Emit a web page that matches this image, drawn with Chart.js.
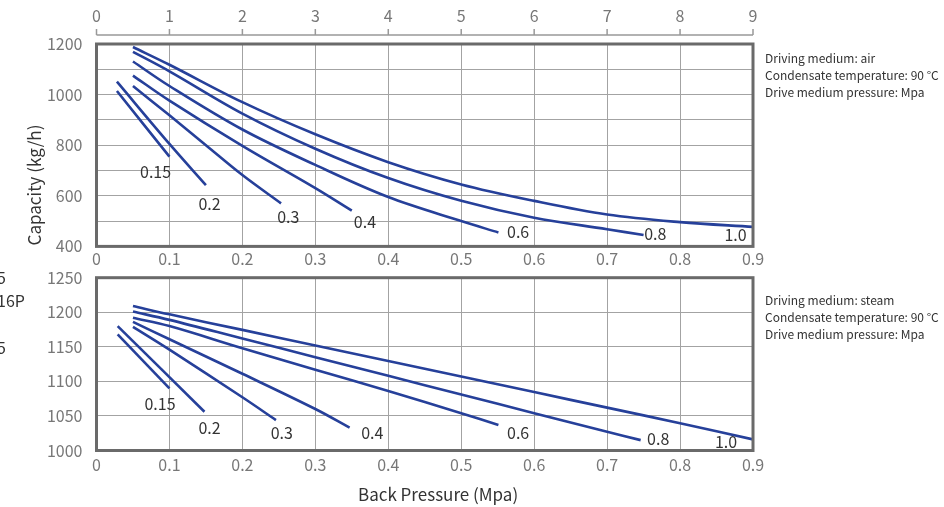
<!DOCTYPE html>
<html>
<head>
<meta charset="utf-8">
<script src="https://cdn.jsdelivr.net/npm/chart.js@4"></script>
<style>
  body { margin: 0; background: #fff; width: 944px; height: 507px; position: relative; overflow: hidden;
         font-family: "Noto Sans CJK SC", "Noto Sans", sans-serif; }
  canvas { position: absolute; left: 0; }
  #airChart { top: 0; }
  #steamChart { top: 254px; }
  .note { position: absolute; left: 765px; font-size: 12px; line-height: 17px; color: #333; white-space: nowrap; }
  .ytitle { position: absolute; left: 33px; top: 185px; font-size: 17px; color: #333; white-space: nowrap;
            transform: translate(-50%, -50%) rotate(-90deg); }
  .xtitle { position: absolute; left: 358px; top: 481px; font-size: 17px; color: #333; white-space: nowrap; }
  .stray { position: absolute; left: -3px; font-size: 16px; color: #333; line-height: 20px; }
</style>
</head>
<body>
<canvas id="airChart" width="944" height="270"></canvas>
<canvas id="steamChart" width="944" height="253"></canvas>

<div class="note" style="top:49px">Driving medium: air<br>Condensate temperature: 90 °C<br>Drive medium pressure: Mpa</div>
<div class="note" style="top:291px">Driving medium: steam<br>Condensate temperature: 90 °C<br>Drive medium pressure: Mpa</div>
<div class="ytitle">Capacity (kg/h)</div>
<div class="xtitle">Back Pressure (Mpa)</div>
<div class="stray" style="top:267px">5</div>
<div class="stray" style="top:290px">16P</div>
<div class="stray" style="top:337px">5</div>

<script>
/* ===============================
   DATA
================================ */
const curveNames = ["0.15", "0.2", "0.3", "0.4", "0.6", "0.8", "1.0"];

// air driven, [back pressure (Mpa), capacity (kg/h)]
const air015 = [[0.028, 1014], [0.1, 755]];
const air02  = [[0.028, 1051], [0.1, 805], [0.15, 642]];
const air03  = [[0.05, 1034], [0.1, 918], [0.15, 800], [0.2, 682], [0.253, 570]];
const air04  = [[0.05, 1075], [0.1, 976], [0.2, 797], [0.3, 630], [0.35, 541]];
const air06  = [[0.05, 1131], [0.1, 1034], [0.2, 862], [0.3, 722], [0.4, 595], [0.5, 500], [0.551, 455]];
const air08  = [[0.05, 1169], [0.1, 1092], [0.2, 925], [0.3, 786], [0.4, 670], [0.5, 580], [0.6, 513], [0.7, 468], [0.75, 445]];
const air10  = [[0.05, 1188], [0.1, 1118], [0.2, 970], [0.3, 843], [0.4, 733], [0.5, 645], [0.6, 580], [0.7, 526], [0.8, 496], [0.9, 477]];

// steam driven
const steam015 = [[0.029, 1168], [0.1, 1090]];
const steam02  = [[0.029, 1180], [0.148, 1056]];
const steam03  = [[0.05, 1179], [0.1, 1146], [0.2, 1077], [0.246, 1044]];
const steam04  = [[0.05, 1186], [0.1, 1161], [0.2, 1111], [0.3, 1060], [0.347, 1033]];
const steam06  = [[0.05, 1192], [0.1, 1180], [0.2, 1148], [0.3, 1117], [0.4, 1086], [0.5, 1054], [0.551, 1037]];
const steam08  = [[0.05, 1201], [0.1, 1189], [0.2, 1162], [0.3, 1135], [0.4, 1108], [0.5, 1081], [0.6, 1054], [0.7, 1027], [0.746, 1015]];
const steam10  = [[0.05, 1209], [0.1, 1197], [0.2, 1174.5], [0.3, 1152], [0.4, 1129.5], [0.5, 1107], [0.6, 1084.5], [0.7, 1062], [0.8, 1039.5], [0.9, 1016]];

// where each curve's name sits (data units)
const airLabelAt   = [[0.081, 694], [0.155, 566], [0.263, 515], [0.368, 496], [0.578, 457], [0.766, 449], [0.876, 446]];
const steamLabelAt = [[0.087, 1068], [0.155, 1032], [0.254, 1025], [0.378, 1025], [0.578, 1025], [0.77, 1017], [0.863, 1013]];

const topTicks = [0, 1, 2, 3, 4, 5, 6, 7, 8, 9];


/* ===============================
   SHARED STYLE
================================ */
Chart.defaults.font.family = '"Noto Sans CJK SC", "Noto Sans", sans-serif';
Chart.defaults.font.size = 16;
Chart.defaults.color = "#777";

const LINE = "#26409a";
const GRID = "#a3a3a3";

const toSet = pts => ({
  data: pts.map(p => ({ x: p[0], y: p[1] })),
  showLine: true,
  borderColor: LINE,
  borderWidth: 2.6,
  pointRadius: 0,
  tension: 0.35,
  fill: false
});

const framePlugin = {
  id: "frame",
  afterDraw(chart, args, opts) {
    const { ctx, chartArea: a, scales } = chart;
    ctx.save();

    // curve names
    ctx.fillStyle = "#333";
    ctx.font = '16px "Noto Sans CJK SC", "Noto Sans", sans-serif';
    ctx.textAlign = "center";
    ctx.textBaseline = "middle";
    opts.labels.forEach((p, i) => {
      ctx.fillText(curveNames[i], scales.x.getPixelForValue(p[0]), scales.y.getPixelForValue(p[1]));
    });

    // plot frame
    ctx.strokeStyle = "#6a6a6a";
    ctx.lineWidth = 3;
    ctx.strokeRect(a.left, a.top, a.right - a.left, a.bottom - a.top);

    // top ruler (0-9)
    const top = scales.x2;
    if (top) {
      const y = a.top - 9;
      ctx.strokeStyle = "#999";
      ctx.lineWidth = 1.5;
      ctx.beginPath();
      ctx.moveTo(a.left, y);
      ctx.lineTo(a.right, y);
      topTicks.forEach(t => {
        const x = top.getPixelForValue(t);
        ctx.moveTo(x, y);
        ctx.lineTo(x, y - 6);
      });
      ctx.stroke();
    }
    ctx.restore();
  }
};

const xAxis = (h, pad) => ({
  type: "linear",
  position: "bottom",
  min: 0, max: 0.9,
  ticks: { stepSize: 0.1, padding: pad, callback: v => +v.toFixed(1) },
  grid: { color: GRID, lineWidth: 1, drawTicks: false },
  border: { display: false },
  afterFit: s => { s.height = h; }
});

const yAxis = (min, max, step, every) => ({
  min, max,
  ticks: {
    stepSize: step,
    padding: 14,
    callback: v => (v % every === 0 ? v : "")
  },
  grid: { color: GRID, lineWidth: 1, drawTicks: false },
  border: { display: false },
  afterFit: s => { s.width = 96.5; }
});


/* ===============================
   AIR CHART
================================ */
new Chart(document.getElementById("airChart"), {
  type: "scatter",
  data: { datasets: [air015, air02, air03, air04, air06, air08, air10].map(toSet) },
  options: {
    responsive: false,
    animation: false,
    layout: { padding: { left: 0, right: 191, top: 0, bottom: 0 } },
    plugins: { legend: { display: false }, tooltip: { enabled: false }, frame: { labels: airLabelAt } },
    scales: {
      x: xAxis(21, 2.5),
      x2: {
        type: "linear",
        position: "top",
        min: 0, max: 9,
        ticks: { stepSize: 1, padding: 18 },
        grid: { display: false, drawTicks: false },
        border: { display: false },
        afterFit: s => { s.height = 44; }
      },
      y: yAxis(400, 1200, 100, 200)
    }
  },
  plugins: [framePlugin]
});


/* ===============================
   STEAM CHART
================================ */
new Chart(document.getElementById("steamChart"), {
  type: "scatter",
  data: { datasets: [steam015, steam02, steam03, steam04, steam06, steam08, steam10].map(toSet) },
  options: {
    responsive: false,
    animation: false,
    layout: { padding: { left: 0, right: 191, top: 23.7, bottom: 0 } },
    plugins: { legend: { display: false }, tooltip: { enabled: false }, frame: { labels: steamLabelAt } },
    scales: {
      x: xAxis(56.5, 5),
      y: yAxis(1000, 1250, 50, 50)
    }
  },
  plugins: [framePlugin]
});
</script>
</body>
</html>
